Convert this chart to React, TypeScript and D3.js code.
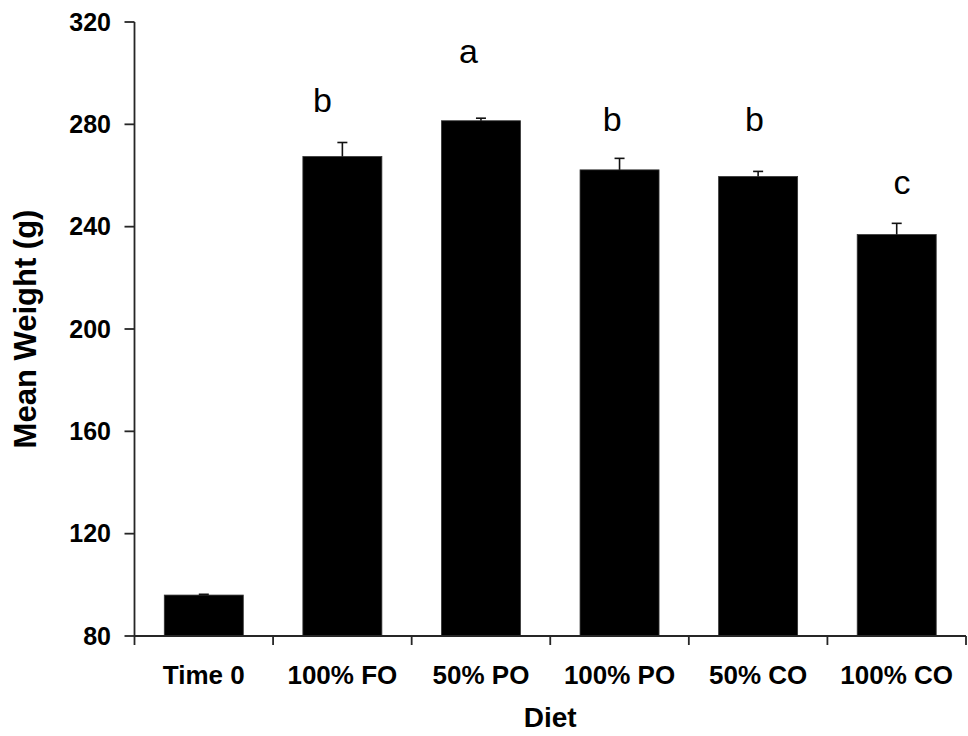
import React from "react";
import * as d3 from "d3";

const categories = ["Time 0", "100% FO", "50% PO", "100% PO", "50% CO", "100% CO"];
const meanWeight = [96, 267.4, 281.4, 262.2, 259.6, 236.9];
const stdError = [0.3, 5.5, 1.0, 4.5, 2.0, 4.4];
const sigLetters = ["", "b", "a", "b", "b", "c"];
const letterLevel = [0, 285, 303.9, 277.5, 277.5, 252.7];
const yTicks = [80, 120, 160, 200, 240, 280, 320];

// layout (px) – not data
const W = 968, H = 736;
const left = 134.5, right = 966, top = 22, bottom = 636;
const letterDx = [0, -20, -12.6, -7.3, -3.7, 5.4];
const FONT = "'Liberation Sans', Arial, Helvetica, sans-serif";

export default function App() {
  const y = d3.scaleLinear().domain([80, 320]).range([bottom, top]);
  const x = d3
    .scaleBand<string>()
    .domain(categories)
    .range([left, right])
    .paddingInner(0.43)
    .paddingOuter(0.215);
  const step = x.step();
  const bw = x.bandwidth();
  const xTickPos = d3.range(categories.length + 1).map((i) => left + i * step);
  const axisColor = "#262626";

  return (
    <svg
      width={W}
      height={H}
      style={{ position: "absolute", left: 0, top: 0, background: "#fff" }}
      fontFamily={FONT}
    >
      {categories.map((c, i) => (
        <rect
          key={c}
          x={x(c)!}
          y={y(meanWeight[i])}
          width={bw}
          height={y(80) - y(meanWeight[i])}
          fill="#000"
          stroke="#333"
          strokeWidth={0.8}
        />
      ))}
      {categories.map((c, i) => {
        const cx = x(c)! + bw / 2;
        const y0 = y(meanWeight[i]);
        const y1 = y(meanWeight[i] + stdError[i]);
        return (
          <g key={"e" + c} stroke="#111" strokeWidth={1.6}>
            <line x1={cx} x2={cx} y1={y0} y2={y1} />
            <line x1={cx - 5} x2={cx + 5} y1={y1} y2={y1} />
          </g>
        );
      })}
      {categories.map((c, i) =>
        sigLetters[i] ? (
          <text
            key={"l" + c}
            x={x(c)! + bw / 2 + letterDx[i]}
            y={y(letterLevel[i])}
            textAnchor="middle"
            fontSize={34}
            fill="#000"
          >
            {sigLetters[i]}
          </text>
        ) : null
      )}
      <line x1={left} x2={left} y1={top} y2={bottom} stroke={axisColor} strokeWidth={1.8} />
      {yTicks.map((t) => (
        <g key={"y" + t}>
          <line x1={left - 10} x2={left} y1={y(t)} y2={y(t)} stroke={axisColor} strokeWidth={1.8} />
          <text
            x={111}
            y={y(t)}
            dy="0.35em"
            textAnchor="end"
            fontSize={25}
            fontWeight="bold"
            fill="#000"
          >
            {t}
          </text>
        </g>
      ))}
      <line x1={left} x2={right} y1={bottom} y2={bottom} stroke={axisColor} strokeWidth={1.8} />
      {xTickPos.map((p, i) => (
        <line key={"xt" + i} x1={p} x2={p} y1={bottom} y2={bottom + 9} stroke={axisColor} strokeWidth={1.8} />
      ))}
      {categories.map((c) => (
        <text
          key={"xl" + c}
          x={x(c)! + bw / 2}
          y={684}
          textAnchor="middle"
          fontSize={26}
          fontWeight="bold"
          fill="#000"
        >
          {c}
        </text>
      ))}
      <text
        x={(left + right) / 2}
        y={727}
        textAnchor="middle"
        fontSize={28}
        fontWeight="bold"
        fill="#000"
      >
        Diet
      </text>
      <text
        transform={`translate(36, ${(top + bottom) / 2}) rotate(-90)`}
        textAnchor="middle"
        fontSize={31}
        fontWeight="bold"
        fill="#000"
      >
        Mean Weight (g)
      </text>
    </svg>
  );
}
